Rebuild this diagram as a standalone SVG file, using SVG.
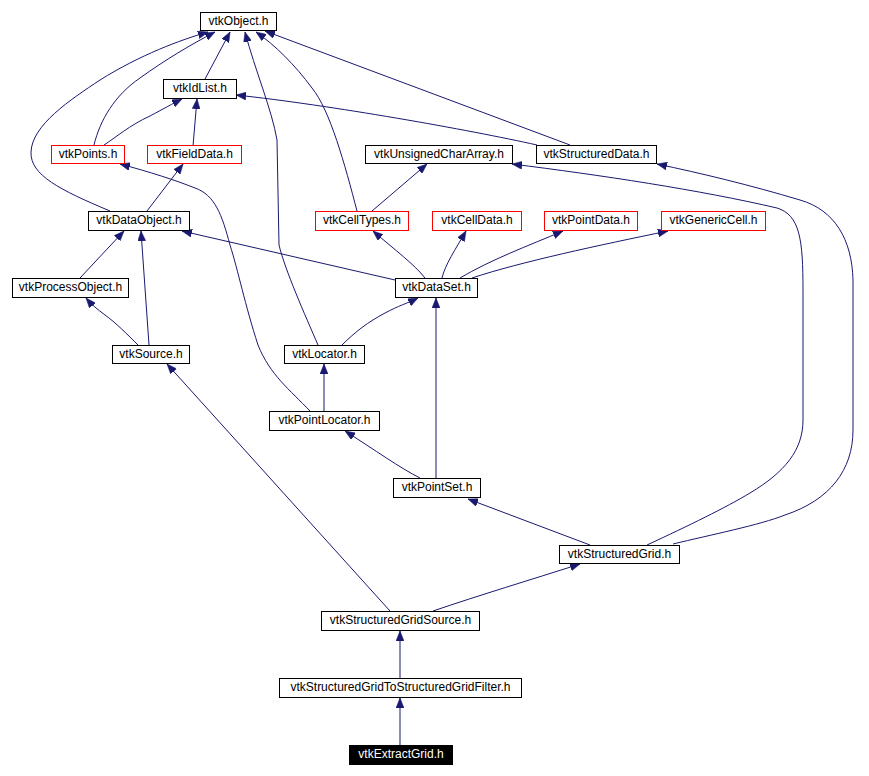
<svg xmlns="http://www.w3.org/2000/svg" width="869" height="776" viewBox="0 0 869 776">
<style>
.n rect{fill:#fff;stroke:#000;stroke-width:1}
.n.r rect{stroke:#ff0000}
.n.k rect{fill:#000}
.n text{font-family:"Liberation Sans",Arial,sans-serif;font-size:12px;text-anchor:middle;fill:#000}
.n.k text{fill:#fff}
.e path{fill:none;stroke:#191970;stroke-width:1;marker-end:url(#a)}
</style>
<defs>
<marker id="a" markerUnits="userSpaceOnUse" markerWidth="10" markerHeight="8" viewBox="0 0 10 8" refX="10" refY="4" orient="auto">
<path d="M0,0 L10,4 L0,8 z" fill="#191970" stroke="#191970" stroke-width="0.5"/>
</marker>
</defs>
<rect width="869" height="776" fill="#fff"/>
<g id="edges" class="e">
<path d="M205,79 L230,32"/>
<path d="M94,145 C100,120 115,95 140,78 C165,60 190,45 215,32"/>
<path d="M110,211 C60,190 30,175 31,152 C32,125 70,100 100,80 C140,55 180,40 208,32"/>
<path d="M104,145 C115,138 130,125 150,116 C165,108 172,104 182,99"/>
<path d="M193,146 L197,99"/>
<path d="M147,211 L183,164"/>
<path d="M570,145 L265,31"/>
<path d="M537,145 C470,130 330,105 236,95"/>
<path d="M357,211 C345,165 330,110 312,88 C295,65 275,45 256,32"/>
<path d="M318,345 C305,315 285,270 279,245 L277,140 C272,110 255,70 245,32"/>
<path d="M372,211 L427,164"/>
<path d="M647,545 C690,525 725,508 750,493 C785,472 803,450 803,420 L803,290 C803,240 800,215 777,208 C700,190 600,175 512,164"/>
<path d="M673,544 C710,535 760,525 785,515 C830,500 853,470 853,430 L853,280 C852,240 835,210 800,200 C750,185 700,173 657,164"/>
<path d="M395,280 L182,231"/>
<path d="M425,278 C415,265 395,250 373,231"/>
<path d="M442,278 C445,265 455,250 466,231"/>
<path d="M460,278 C490,260 530,245 563,231"/>
<path d="M472,278 C520,262 600,245 668,231"/>
<path d="M80,278 L124,231"/>
<path d="M149,345 L141,231"/>
<path d="M138,345 C128,335 115,322 105,315 C97,309 92,305 86,298"/>
<path d="M342,345 C355,332 368,322 385,313 C398,306 408,303 418,298"/>
<path d="M324,411 L324,364"/>
<path d="M310,411 C290,390 270,375 258,345 C245,305 238,270 230,245 C222,215 215,195 195,188 C175,180 150,172 120,164"/>
<path d="M420,478 C400,468 375,450 345,431"/>
<path d="M436,478 L436,298"/>
<path d="M590,545 L468,499"/>
<path d="M433,611 C480,595 530,580 580,564"/>
<path d="M390,611 L167,364"/>
<path d="M400,678 L400,631"/>
<path d="M400,745 L400,698"/>
</g>
<g id="vtkObject" class="n"><rect x="200.5" y="12.5" width="76" height="18"/><text x="238.5" y="25">vtkObject.h</text></g>
<g id="vtkIdList" class="n"><rect x="163.5" y="79.5" width="73" height="19"/><text x="200" y="92">vtkIdList.h</text></g>
<g id="vtkPoints" class="n r"><rect x="51.5" y="145.5" width="73" height="18"/><text x="88" y="158">vtkPoints.h</text></g>
<g id="vtkFieldData" class="n r"><rect x="147.5" y="145.5" width="94" height="18"/><text x="194.5" y="158">vtkFieldData.h</text></g>
<g id="vtkUnsignedCharArray" class="n"><rect x="365.5" y="145.5" width="147" height="18"/><text x="439" y="158">vtkUnsignedCharArray.h</text></g>
<g id="vtkStructuredData" class="n"><rect x="536.5" y="145.5" width="120" height="18"/><text x="596.5" y="158">vtkStructuredData.h</text></g>
<g id="vtkDataObject" class="n"><rect x="88.5" y="211.5" width="101" height="19"/><text x="139" y="224">vtkDataObject.h</text></g>
<g id="vtkCellTypes" class="n r"><rect x="315.5" y="211.5" width="93" height="19"/><text x="362" y="224">vtkCellTypes.h</text></g>
<g id="vtkCellData" class="n r"><rect x="432.5" y="211.5" width="89" height="19"/><text x="477" y="224">vtkCellData.h</text></g>
<g id="vtkPointData" class="n r"><rect x="544.5" y="211.5" width="93" height="19"/><text x="591" y="224">vtkPointData.h</text></g>
<g id="vtkGenericCell" class="n r"><rect x="661.5" y="211.5" width="104" height="19"/><text x="713.5" y="224">vtkGenericCell.h</text></g>
<g id="vtkProcessObject" class="n"><rect x="12.5" y="278.5" width="116" height="19"/><text x="70.5" y="291">vtkProcessObject.h</text></g>
<g id="vtkDataSet" class="n"><rect x="395.5" y="278.5" width="82" height="19"/><text x="436.5" y="291">vtkDataSet.h</text></g>
<g id="vtkSource" class="n"><rect x="112.5" y="345.5" width="77" height="18"/><text x="151" y="358">vtkSource.h</text></g>
<g id="vtkLocator" class="n"><rect x="284.5" y="345.5" width="80" height="18"/><text x="324.5" y="358">vtkLocator.h</text></g>
<g id="vtkPointLocator" class="n"><rect x="269.5" y="411.5" width="110" height="19"/><text x="324.5" y="424">vtkPointLocator.h</text></g>
<g id="vtkPointSet" class="n"><rect x="393.5" y="478.5" width="87" height="19"/><text x="437" y="491">vtkPointSet.h</text></g>
<g id="vtkStructuredGrid" class="n"><rect x="559.5" y="545.5" width="120" height="18"/><text x="619.5" y="558">vtkStructuredGrid.h</text></g>
<g id="vtkStructuredGridSource" class="n"><rect x="321.5" y="611.5" width="158" height="19"/><text x="400.5" y="624">vtkStructuredGridSource.h</text></g>
<g id="vtkStructuredGridToStructuredGridFilter" class="n"><rect x="279.5" y="678.5" width="242" height="19"/><text x="400.5" y="691">vtkStructuredGridToStructuredGridFilter.h</text></g>
<g id="vtkExtractGrid" class="n k"><rect x="349.5" y="745.5" width="103" height="19"/><text x="401" y="758">vtkExtractGrid.h</text></g>
</svg>
